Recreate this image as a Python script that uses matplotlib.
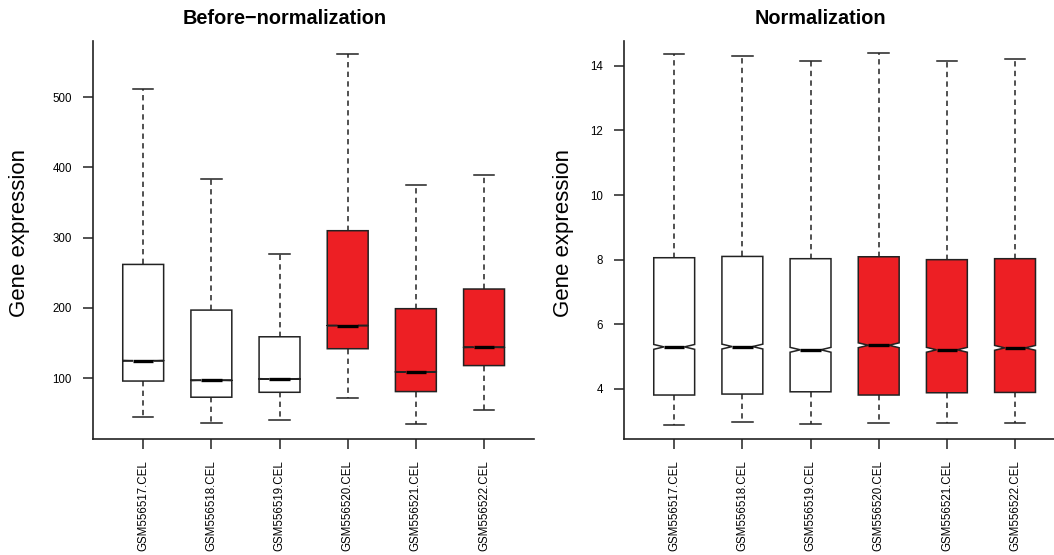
import matplotlib
matplotlib.use("Agg")
import matplotlib.pyplot as plt

plt.rcParams['font.family'] = ['Liberation Sans', 'DejaVu Sans']

samples = ['GSM556517.CEL', 'GSM556518.CEL', 'GSM556519.CEL',
           'GSM556520.CEL', 'GSM556521.CEL', 'GSM556522.CEL']
box_colors = ['white', 'white', 'white', '#ED1F24', '#ED1F24', '#ED1F24']

# before normalization (raw intensities)
raw_whislo = [45, 36.5, 40.5, 72, 34.5, 55]
raw_q1 = [96, 73, 80, 142, 81, 118]
raw_med = [125, 97, 99, 175, 109, 144]
raw_q3 = [262, 197, 159, 310, 199, 227]
raw_whishi = [512, 383, 277, 561, 375, 389]
raw_notch = [0.4, 0.4, 0.4, 0.4, 0.4, 0.4]

# after normalization (log2)
norm_whislo = [2.89, 2.96, 2.90, 2.93, 2.94, 2.93]
norm_q1 = [3.81, 3.84, 3.91, 3.81, 3.88, 3.89]
norm_med = [5.30, 5.31, 5.21, 5.35, 5.21, 5.27]
norm_q3 = [8.06, 8.10, 8.03, 8.09, 8.00, 8.03]
norm_whishi = [14.37, 14.31, 14.16, 14.39, 14.16, 14.20]
norm_notch = [0.075, 0.075, 0.075, 0.075, 0.075, 0.075]


def make_stats(lo, q1, med, q3, hi, notch):
    stats = []
    for i in range(len(med)):
        stats.append(dict(whislo=lo[i], q1=q1[i], med=med[i], q3=q3[i],
                          whishi=hi[i], cilo=med[i] - notch[i],
                          cihi=med[i] + notch[i], fliers=[]))
    return stats


def draw_panel(ax, stats, ylim, yticks):
    edge = '#222222'
    bp = ax.bxp(stats, positions=range(1, 7), widths=0.6, capwidths=0.3,
                shownotches=True, patch_artist=True, showfliers=False,
                boxprops=dict(edgecolor=edge, linewidth=1.1),
                medianprops=dict(color='black', linewidth=2.4,
                                 solid_capstyle='butt'),
                whiskerprops=dict(color=edge, linewidth=1.1,
                                  linestyle=(0, (3.5, 2.8))),
                capprops=dict(color=edge, linewidth=1.1))
    for patch, c in zip(bp['boxes'], box_colors):
        patch.set_facecolor(c)
    ax.set_xlim(0.26, 6.74)
    ax.set_ylim(*ylim)
    ax.set_yticks(yticks)
    ax.set_xticks(range(1, 7))
    ax.set_xticklabels(samples, rotation=90, fontsize=8.3)
    ax.tick_params(axis='both', direction='out', length=7.5, width=1.1,
                   color=edge, labelsize=8.3, pad=7.5)
    for side in ['top', 'right']:
        ax.spines[side].set_visible(False)
    for side in ['left', 'bottom']:
        ax.spines[side].set_linewidth(1.2)
        ax.spines[side].set_color(edge)


fig = plt.figure(figsize=(10.54, 5.55), dpi=100)
ax1 = fig.add_axes([0.0880, 0.2090, 0.4191, 0.7171])
ax2 = fig.add_axes([0.5918, 0.2085, 0.4191, 0.7177])

draw_panel(ax1, make_stats(raw_whislo, raw_q1, raw_med, raw_q3, raw_whishi, raw_notch),
           (13.5, 580), [100, 200, 300, 400, 500])
draw_panel(ax2, make_stats(norm_whislo, norm_q1, norm_med, norm_q3, norm_whishi, norm_notch),
           (2.44, 14.77), [4, 6, 8, 10, 12, 14])

fig.text(285 / 1054, 1 - 18.5 / 555, 'Before\u2212normalization', ha='center',
         va='center', fontsize=14.3, fontweight='bold')
fig.text(820.7 / 1054, 1 - 18.5 / 555, 'Normalization', ha='center',
         va='center', fontsize=14.3, fontweight='bold')
fig.text(19.5 / 1054, 1 - 233 / 555, 'Gene expression', rotation=90,
         ha='center', va='center', fontsize=16)
fig.text(563 / 1054, 1 - 233 / 555, 'Gene expression', rotation=90,
         ha='center', va='center', fontsize=16)

fig.savefig('out.png', dpi=100)
